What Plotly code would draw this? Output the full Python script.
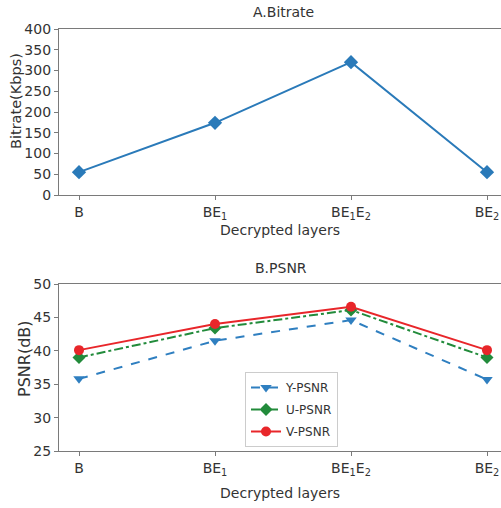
import plotly.graph_objects as go

categories = ["B", "BE<sub>1</sub>", "BE<sub>1</sub>E<sub>2</sub>", "BE<sub>2</sub>"]
bitrate = [55, 174, 320, 55]
y_psnr = [35.8, 41.5, 44.6, 35.7]
u_psnr = [39.0, 43.4, 46.1, 39.0]
v_psnr = [40.1, 44.0, 46.6, 40.1]

W, H = 501, 508
xs = list(range(len(categories)))
FONT = "DejaVu Sans"
GRAY = "#7a7a7a"
TXT = "#333333"

def px(x):
    return x / W

def py(y):
    return 1 - y / H

fig = go.Figure()
fig.add_trace(go.Scatter(x=xs, y=bitrate, mode="lines+markers", showlegend=False,
                         line=dict(color="#2a7ab9", width=2),
                         marker=dict(symbol="diamond", size=11, color="#2a7ab9"),
                         xaxis="x", yaxis="y"))
fig.add_trace(go.Scatter(x=xs, y=y_psnr, mode="lines+markers", name="Y-PSNR", legendgroup="y",
                         line=dict(color="#2f7fc0", width=2, dash="dash"),
                         marker=dict(symbol="triangle-down", size=10, color="#2f7fc0"),
                         xaxis="x2", yaxis="y2"))
fig.add_trace(go.Scatter(x=xs, y=u_psnr, mode="lines+markers", name="U-PSNR", legendgroup="u",
                         line=dict(color="#228b3b", width=2, dash="dashdot"),
                         marker=dict(symbol="diamond", size=10, color="#228b3b"),
                         xaxis="x2", yaxis="y2"))
fig.add_trace(go.Scatter(x=xs, y=v_psnr, mode="lines+markers", name="V-PSNR", legendgroup="v",
                         line=dict(color="#e8262a", width=2),
                         marker=dict(symbol="circle", size=10, color="#e8262a"),
                         xaxis="x2", yaxis="y2"))

B_PX = 79      # page x of category B
STEP = 136     # px per category
xdom = [px(59), 1.0]
xrng = [(59 - B_PX) / STEP, (W - B_PX) / STEP]
d1 = [py(195), py(29)]
d2 = [py(451), py(284)]

def xax(anchor, standoff):
    return dict(domain=xdom, range=xrng, anchor=anchor, tickvals=xs, ticktext=categories,
                automargin=False,
                showline=True, linecolor=GRAY, linewidth=1.3, mirror=True,
                ticks="outside", ticklen=4, tickcolor=GRAY, showgrid=False, zeroline=False,
                tickfont=dict(size=14, color=TXT, family=FONT),
                title=dict(text="Decrypted layers", standoff=standoff,
                           font=dict(size=14, color=TXT, family=FONT)))

def yax(anchor, dom, rng, dt):
    return dict(domain=dom, range=rng, anchor=anchor, dtick=dt, tick0=0,
                automargin=False,
                showline=True, linecolor=GRAY, linewidth=1.3,
                ticks="outside", ticklen=4, tickcolor=GRAY, showgrid=False, zeroline=False,
                tickfont=dict(size=14, color=TXT, family=FONT))

fig.update_layout(
    width=W, height=H, margin=dict(l=0, r=0, t=0, b=0, autoexpand=False),
    plot_bgcolor="white", paper_bgcolor="white",
    xaxis=xax("y", 4), yaxis=yax("x", d1, [0, 400], 50),
    xaxis2=xax("y2", 11), yaxis2=yax("x2", d2, [25, 50], 5),
    legend=dict(x=px(245), y=py(372), xanchor="left", yanchor="top",
                bgcolor="white", bordercolor="#cccccc", borderwidth=1,
                font=dict(size=12, color=TXT, family=FONT),
                tracegroupgap=3, itemwidth=30),
    annotations=[
        dict(text="A.Bitrate", x=px(283), y=py(12), xref="paper", yref="paper",
             xanchor="center", yanchor="middle",
             showarrow=False, font=dict(size=14, color=TXT, family=FONT)),
        dict(text="B.PSNR", x=px(281), y=py(268), xref="paper", yref="paper",
             xanchor="center", yanchor="middle",
             showarrow=False, font=dict(size=14, color=TXT, family=FONT)),
        dict(text="Bitrate(Kbps)", x=px(16), y=py(101), xref="paper", yref="paper",
             xanchor="center", yanchor="middle", textangle=-90,
             showarrow=False, font=dict(size=14.5, color=TXT, family=FONT)),
        dict(text="PSNR(dB)", x=px(24), y=py(359), xref="paper", yref="paper",
             xanchor="center", yanchor="middle", textangle=-90,
             showarrow=False, font=dict(size=16, color=TXT, family=FONT)),
    ],
)

fig.write_html(
    "out.html",
    config={"displayModeBar": False},
    post_script="document.body.style.margin='0';document.documentElement.style.overflow='hidden';",
)
